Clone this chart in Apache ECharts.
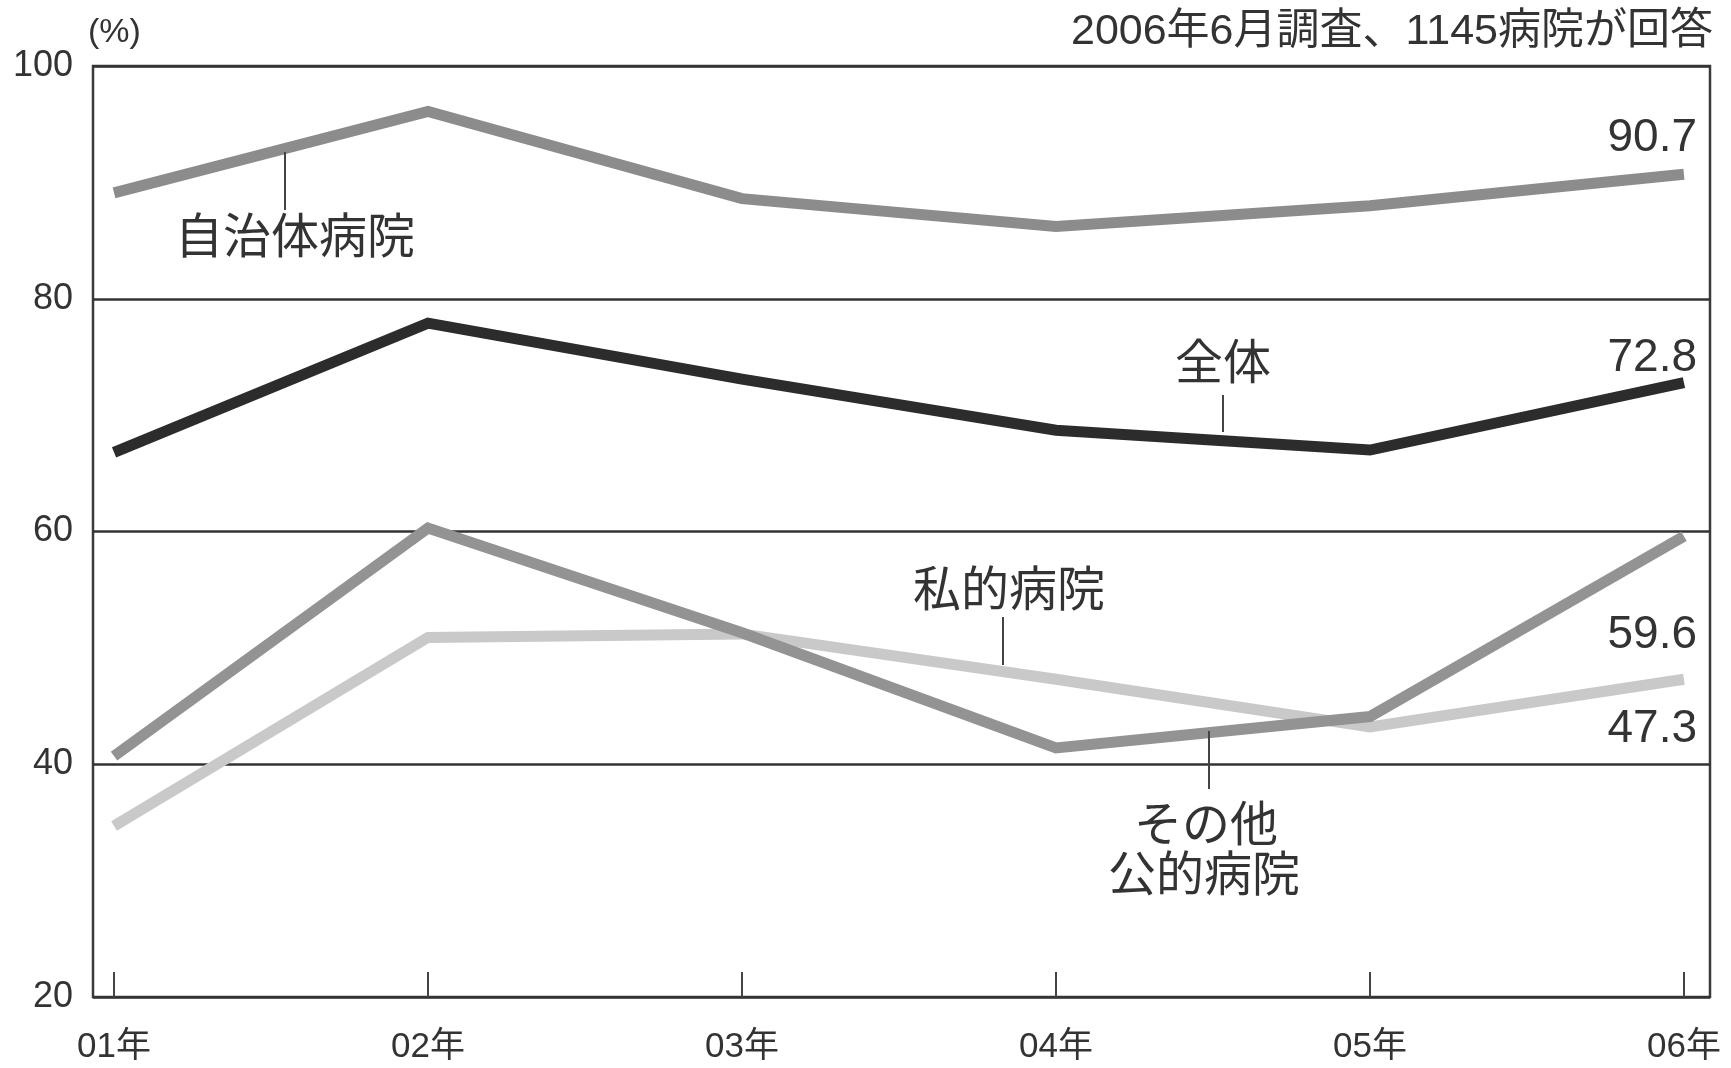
<!DOCTYPE html>
<html>
<head>
<meta charset="utf-8">
<script src="https://cdn.jsdelivr.net/npm/echarts@6/dist/echarts.min.js"></script>
<style>
html,body{margin:0;padding:0;background:#fff;}
#chart{width:1731px;height:1068px;}
</style>
</head>
<body>
<div id="chart"></div>
<script>
// ---- data ----
var categories = ['01年', '02年', '03年', '04年', '05年', '06年'];
var jichitai = [89.1, 96.1, 88.6, 86.2, 88.0, 90.7];   // 自治体病院
var zentai   = [66.8, 77.9, 73.1, 68.7, 67.0, 72.8];   // 全体
var sonota   = [40.7, 60.3, 51.3, 41.4, 44.1, 59.6];   // その他公的病院
var shiteki  = [34.7, 50.9, 51.2, 47.3, 43.2, 47.3];   // 私的病院
var yTicks = [20, 40, 60, 80, 100];
var titleText = '2006年6月調査、1145病院が回答';
var unitText = '(%)';

var FONT = "'Liberation Sans','Noto Sans CJK JP',sans-serif";
var TXT = '#333';

function pairs(arr){ return arr.map(function(v,i){ return [i, v]; }); }
var idx = categories.map(function(c,i){ return i; });

var chart = echarts.init(document.getElementById('chart'), null, {renderer:'canvas'});

function lineSeries(name, data, color, z){
  return {
    name: name, type: 'line', data: pairs(data), symbol: 'none', z: z,
    lineStyle: {color: color, width: 11, cap: 'butt', join: 'miter'},
    animation: false, silent: true
  };
}

var option = {
  backgroundColor: '#ffffff',
  animation: false,
  grid: {left: 93, right: 21, top: 66, bottom: 71, show: true,
         borderColor: '#3a3a3a', borderWidth: 2.5, backgroundColor: 'transparent'},
  xAxis: {
    type: 'value', min: -0.067, max: 5.083,
    splitLine: {show: false},
    axisLine: {show: false},
    axisTick: {show: true, inside: true, length: 25, customValues: idx,
               lineStyle: {color: '#444', width: 2}},
    axisLabel: {show: true, customValues: idx, margin: 33,
                fontSize: 35, fontFamily: FONT, color: TXT,
                formatter: function(v){ return categories[Math.round(v)] || ''; }}
  },
  yAxis: {
    type: 'value', min: 20, max: 100, interval: 20,
    axisLine: {show: false}, axisTick: {show: false},
    splitLine: {show: true, lineStyle: {color: '#333', width: 2.5}},
    axisLabel: {margin: 20, fontSize: 36, fontFamily: FONT, color: TXT,
                customValues: yTicks}
  },
  series: [
    lineSeries('私的病院', shiteki, '#c9c9c9', 2),
    lineSeries('その他公的病院', sonota, '#939393', 3),
    lineSeries('自治体病院', jichitai, '#8c8c8c', 4),
    lineSeries('全体', zentai, '#2c2c2c', 5)
  ],
  graphic: []
};
chart.setOption(option);

function txt(x, y, s, size, align){
  return {type: 'text', x: x, y: y, z: 10, silent: true,
    style: {text: s, fontSize: size, fontFamily: FONT, fill: TXT,
            align: align || 'center', verticalAlign: 'middle'}};
}
function leader(x, y1, y2){
  return {type: 'line', z: 10, silent: true,
    shape: {x1: x, y1: y1, x2: x, y2: y2},
    style: {stroke: '#444', lineWidth: 2}};
}

var g = [
  txt(1713, 32, titleText, 43, 'right'),
  txt(88, 33, unitText, 34, 'left'),
  // series name labels
  txt(295, 240, '自治体病院', 48),
  leader(285, 152, 210),
  txt(1223, 366, '全体', 48),
  leader(1223, 395, 432),
  txt(1009, 593, '私的病院', 48),
  leader(1003, 617, 665),
  txt(1206, 828, 'その他', 48),
  txt(1204, 878, '公的病院', 48),
  leader(1209, 731, 789),
  // end values
  txt(1697, 138, jichitai[5].toFixed(1), 46, 'right'),
  txt(1697, 358, zentai[5].toFixed(1), 46, 'right'),
  txt(1697, 635, sonota[5].toFixed(1), 46, 'right'),
  txt(1697, 729, shiteki[5].toFixed(1), 46, 'right')
];
chart.setOption({graphic: g});
</script>
</body>
</html>
